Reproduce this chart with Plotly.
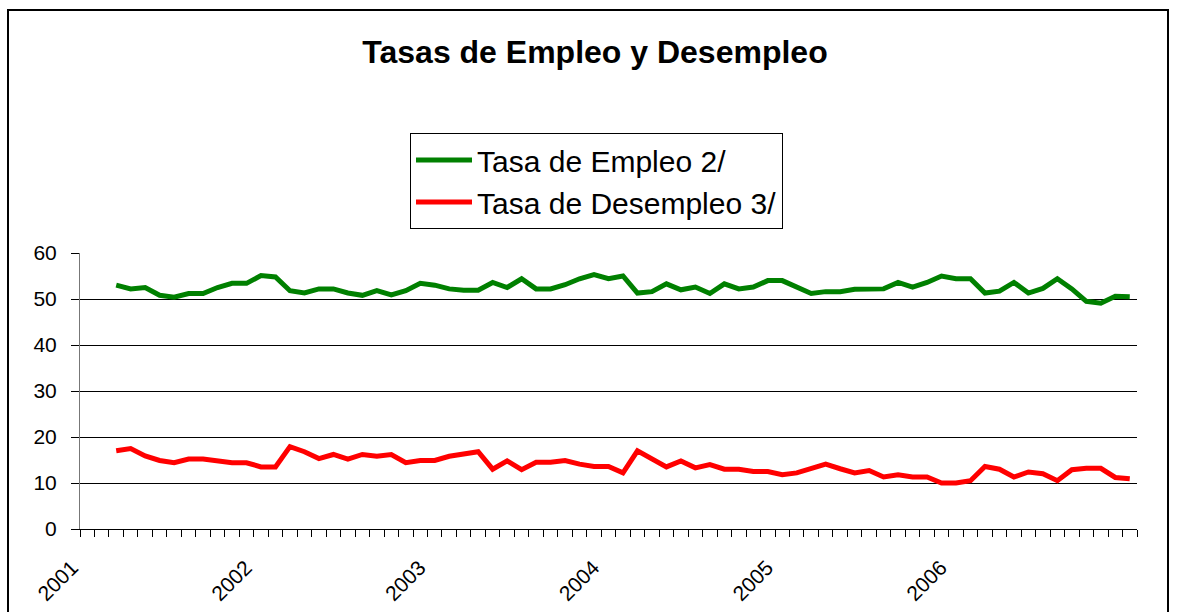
import plotly.graph_objects as go

# ---- Data -------------------------------------------------------------
anios = ["2001", "2002", "2003", "2004", "2005", "2006"]
meses = [f"{a}-{m:02d}" for a in range(2001, 2007) for m in range(1, 13)] + ["2007-01"]
mes_inicio = "2001-03"

empleo = [53.0, 52.2, 52.5, 50.8, 50.4, 51.2, 51.2, 52.5, 53.4, 53.4,
          55.1, 54.8, 51.8, 51.3, 52.2, 52.2, 51.3, 50.8, 51.8, 50.9,
          51.8, 53.4, 53.0, 52.2, 51.9, 51.9, 53.6, 52.5, 54.4, 52.2,
          52.2, 53.1, 54.4, 55.3, 54.4, 55.0, 51.3, 51.6, 53.3, 52.0,
          52.6, 51.2, 53.3, 52.2, 52.6, 54.0, 54.0, 52.6, 51.2, 51.6,
          51.6, 52.1, 52.2, 52.2, 53.6, 52.6, 53.6, 55.0, 54.4, 54.4,
          51.3, 51.7, 53.6, 51.3, 52.3, 54.4, 52.2, 49.5, 49.1, 50.6,
          50.5]

desempleo = [17.0, 17.5, 15.9, 14.9, 14.4, 15.2, 15.2, 14.9, 14.4, 14.4,
             13.5, 13.5, 17.9, 16.8, 15.3, 16.2, 15.2, 16.2, 15.8, 16.2,
             14.4, 14.9, 14.9, 15.8, 16.2, 16.8, 13.0, 14.8, 12.9, 14.5,
             14.5, 14.9, 14.1, 13.6, 13.6, 12.2, 17.0, 15.3, 13.5, 14.8,
             13.3, 14.0, 13.0, 13.0, 12.5, 12.5, 11.8, 12.2, 13.1, 14.1,
             13.1, 12.2, 12.7, 11.3, 11.8, 11.3, 11.3, 10.0, 10.0, 10.5,
             13.6, 13.0, 11.3, 12.4, 12.0, 10.5, 12.9, 13.2, 13.2, 11.2,
             10.9]

nombres = ["Tasa de Empleo 2/", "Tasa de Desempleo 3/"]
colores = ["#008000", "#FF0000"]

# ---- Positions on the category scale ------------------------------------
i0 = meses.index(mes_inicio)
x_emp = list(range(i0, i0 + len(empleo)))
x_des = list(range(i0, i0 + len(desempleo)))
tick_pos = [meses.index(f"{a}-01") - 0.5 for a in anios]

W, H = 1177, 612
L, R, T, B = 80, 40, 253, 83
pw, ph = W - L - R, H - T - B

def px_x(p):
    return (p - L) / pw

def px_y(p):
    return (H - B - p) / ph

fig = go.Figure()
fig.add_trace(go.Scatter(x=x_emp, y=empleo, mode="lines", name=nombres[0],
                         line=dict(color=colores[0], width=5)))
fig.add_trace(go.Scatter(x=x_des, y=desempleo, mode="lines", name=nombres[1],
                         line=dict(color=colores[1], width=5)))

font_fam = "Liberation Sans, Arial, sans-serif"

fig.update_layout(
    width=W, height=H,
    margin=dict(l=L, r=R, t=T, b=B, autoexpand=False),
    paper_bgcolor="white", plot_bgcolor="white",
    font=dict(family=font_fam, color="black"),
    title=dict(text="<b>Tasas de Empleo y Desempleo</b>", x=595 / W, xref="container",
               xanchor="center", y=1 - 52 / H, yanchor="middle",
               font=dict(size=32, family=font_fam, color="black")),
    showlegend=True,
    legend=dict(x=px_x(410), y=px_y(133), xanchor="left", yanchor="top",
                bgcolor="white", bordercolor="black", borderwidth=1,
                font=dict(size=30, family=font_fam, color="black"),
                tracegroupgap=0, itemwidth=56),
    xaxis=dict(range=[-0.5, len(meses) - 0.5], showgrid=False, zeroline=False,
               showline=True, linecolor="black", linewidth=1,
               tickmode="array", tickvals=tick_pos, ticktext=anios,
               ticks="outside", ticklen=7, tickcolor="black", tickwidth=1,
               tickangle=-45, ticklabelshift=-8, ticklabelstandoff=10,
               tickfont=dict(size=21, family=font_fam, color="black"),
               minor=dict(tick0=-0.5, dtick=1, ticks="outside", ticklen=7,
                          tickcolor="black", tickwidth=1, showgrid=False)),
    yaxis=dict(range=[0, 60], dtick=10, showgrid=True, gridcolor="black", gridwidth=1,
               zeroline=False, showline=True, linecolor="#777777", linewidth=1,
               ticks="outside", ticklen=8, tickcolor="black", ticklabelstandoff=10,
               tickfont=dict(size=21, family=font_fam, color="black")),
    shapes=[dict(type="rect", xref="paper", yref="paper",
                 x0=px_x(8), x1=px_x(1168), y0=px_y(640), y1=px_y(10),
                 line=dict(color="black", width=2), fillcolor="rgba(0,0,0,0)",
                 layer="below")],
)

fig.write_html("out.html", config={"displayModeBar": False},
               post_script="document.body.style.margin='0';document.body.style.overflow='hidden';")
